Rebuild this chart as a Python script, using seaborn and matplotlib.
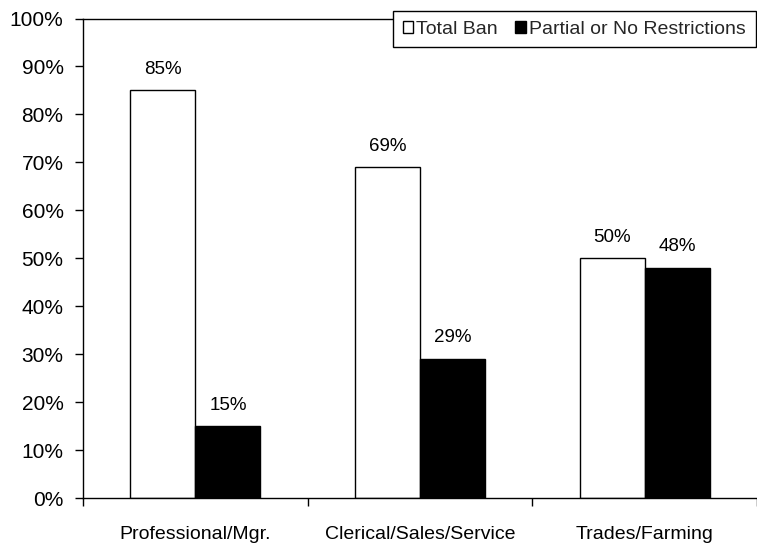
import pandas as pd
import matplotlib.pyplot as plt
import seaborn as sns
from matplotlib.patches import Patch
from matplotlib.ticker import FuncFormatter

# === Chart data ===
categories = ["Professional/Mgr.", "Clerical/Sales/Service", "Trades/Farming"]
total_ban = [85, 69, 50]
partial = [15, 29, 48]
series = ["Total Ban", "Partial or No Restrictions"]

df = pd.DataFrame({
    "category": categories * 2,
    "value": total_ban + partial,
    "group": [series[0]] * 3 + [series[1]] * 3,
})

sns.set_theme(style="white")
plt.rcParams["font.family"] = ["Liberation Sans", "DejaVu Sans"]

fig = plt.figure(figsize=(7.57, 5.48), dpi=100)
ax = fig.add_axes([83 / 757, 1 - 498 / 548, 1 - 83 / 757, (498 - 18.5) / 548])

sns.barplot(data=df, x="category", y="value", hue="group",
            palette=["white", "black"], edgecolor="black", linewidth=1,
            width=0.58, saturation=1, ax=ax, legend=False)

# value labels above bars
for cont in ax.containers:
    ax.bar_label(cont, fmt="%d%%", padding=9, fontsize=13.5, color="black")

ax.set_ylim(0, 100)
ax.set_xlim(-0.5, 2.5)
ax.set_yticks(range(0, 101, 10))
ax.yaxis.set_major_formatter(FuncFormatter(lambda v, p: f"{int(v)}%"))
ax.tick_params(axis="y", which="major", left=True, length=6, width=1,
               color="black", labelsize=15, pad=8, labelcolor="black")

# category separators as major ticks, names as minor ticks
ax.set_xticks([-0.5, 0.5, 1.5, 2.5])
ax.set_xticklabels([])
ax.set_xticks([0, 1, 2], minor=True)
ax.set_xticklabels(categories, minor=True)
ax.tick_params(axis="x", which="major", bottom=True, length=6, width=1, color="black")
ax.tick_params(axis="x", which="minor", bottom=True, length=0, labelsize=14,
               pad=20, labelcolor="black")

ax.set_xlabel("")
ax.set_ylabel("")
for side in ["left", "bottom", "top"]:
    ax.spines[side].set_visible(True)
    ax.spines[side].set_color("black")
    ax.spines[side].set_linewidth(1)
ax.spines["right"].set_visible(False)

handles = [Patch(facecolor="white", edgecolor="black", linewidth=1),
           Patch(facecolor="black", edgecolor="black", linewidth=1)]
leg = fig.legend(handles, series, loc="upper left",
                 bbox_to_anchor=(393 / 757, 1 - 11 / 548), ncol=2,
                 fontsize=14, frameon=True, fancybox=False, framealpha=1,
                 edgecolor="black", handlelength=0.55, handleheight=0.55,
                 handletextpad=0.15, columnspacing=0.9, borderpad=0.5,
                 borderaxespad=0)
leg.get_frame().set_linewidth(1)

fig.savefig("out.png", dpi=100)
